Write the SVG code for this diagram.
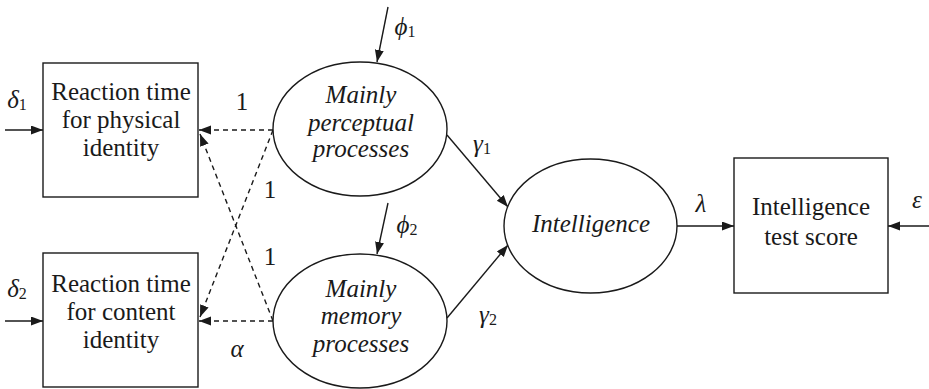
<svg xmlns="http://www.w3.org/2000/svg" width="929" height="389" viewBox="0 0 929 389">
<style>
.shape{fill:#fff;stroke:#1a1a1a;stroke-width:1.4}
.t{font-family:'Liberation Serif','DejaVu Serif',Tinos,'Times New Roman',serif;font-size:25px;fill:#1a1a1a;text-anchor:middle}
.i{font-style:italic}
.g{font-family:'Liberation Serif','DejaVu Serif',Tinos,'Times New Roman',serif;font-size:25px;font-style:italic;fill:#1a1a1a;text-anchor:middle}
.sub{font-style:normal;font-size:16px}
.c{fill:none;stroke:#1a1a1a;stroke-width:1.4}
.d{stroke-dasharray:5,4}
</style>
<defs>
<marker id="ah" markerUnits="userSpaceOnUse" markerWidth="13" markerHeight="10" refX="12" refY="4.5" orient="auto">
<path d="M0,0 L12,4.5 L0,9 z" fill="#1a1a1a"/>
</marker>
</defs>
<g id="connectors">
<line class="c" x1="5" y1="130" x2="43" y2="130" marker-end="url(#ah)"/>
<line class="c" x1="5" y1="321" x2="43" y2="321" marker-end="url(#ah)"/>
<line class="c" x1="929" y1="226" x2="888" y2="226" marker-end="url(#ah)"/>
<line class="c" x1="677" y1="226" x2="734" y2="226" marker-end="url(#ah)"/>
<line class="c" x1="388" y1="7" x2="377" y2="62" marker-end="url(#ah)"/>
<line class="c" x1="388" y1="203" x2="377" y2="254" marker-end="url(#ah)"/>
<line class="c" x1="447" y1="135" x2="508" y2="207" marker-end="url(#ah)"/>
<line class="c" x1="447" y1="318" x2="508" y2="245" marker-end="url(#ah)"/>
<line class="c d" x1="273" y1="130" x2="199" y2="130" marker-end="url(#ah)"/>
<line class="c d" x1="273" y1="130" x2="200" y2="317" marker-end="url(#ah)"/>
<line class="c d" x1="273" y1="321" x2="200" y2="134" marker-end="url(#ah)"/>
<line class="c d" x1="273" y1="321" x2="199" y2="321" marker-end="url(#ah)"/>
<text class="t" x="242" y="110" font-family="Liberation Serif">1</text>
<text class="t" x="270" y="198" font-family="Liberation Serif">1</text>
<text class="t" x="270" y="265" font-family="Liberation Serif">1</text>
<text class="g" x="237" y="357" font-family="Liberation Serif">α</text>
<text class="g" x="17" y="108" font-family="Liberation Serif">δ<tspan class="sub" dy="2">1</tspan></text>
<text class="g" x="17" y="297" font-family="Liberation Serif">δ<tspan class="sub" dy="2">2</tspan></text>
<text class="g" x="405" y="35" font-family="Liberation Serif">ϕ<tspan class="sub" dy="2">1</tspan></text>
<text class="g" x="407" y="233" font-family="Liberation Serif">ϕ<tspan class="sub" dy="2">2</tspan></text>
<text class="g" x="482" y="152" font-family="Liberation Serif">γ<tspan class="sub" dy="2">1</tspan></text>
<text class="g" x="488" y="323" font-family="Liberation Serif">γ<tspan class="sub" dy="2">2</tspan></text>
<text class="g" x="701" y="212" font-family="Liberation Serif">λ</text>
<text class="g" x="917" y="208" font-family="Liberation Serif">ε</text>
</g>
<g id="rt-physical" font-family="Liberation Serif">
<rect class="shape" x="43" y="63" width="155" height="134"/>
<text class="t" x="121" y="100">Reaction time</text>
<text class="t" x="121" y="128">for physical</text>
<text class="t" x="121" y="156">identity</text>
</g>
<g id="rt-content" font-family="Liberation Serif">
<rect class="shape" x="43" y="253" width="155" height="134"/>
<text class="t" x="121" y="292">Reaction time</text>
<text class="t" x="121" y="320">for content</text>
<text class="t" x="121" y="348">identity</text>
</g>
<g id="perceptual" font-family="Liberation Serif">
<ellipse class="shape" cx="360" cy="129" rx="87" ry="67"/>
<text class="t i" x="361" y="103">Mainly</text>
<text class="t i" x="361" y="131">perceptual</text>
<text class="t i" x="361" y="157">processes</text>
</g>
<g id="memory" font-family="Liberation Serif">
<ellipse class="shape" cx="360" cy="321" rx="87" ry="67"/>
<text class="t i" x="361" y="297">Mainly</text>
<text class="t i" x="361" y="324">memory</text>
<text class="t i" x="361" y="352">processes</text>
</g>
<g id="intelligence" font-family="Liberation Serif">
<ellipse class="shape" cx="590.5" cy="226" rx="86.5" ry="67"/>
<text class="t i" x="591" y="232">Intelligence</text>
</g>
<g id="test-score" font-family="Liberation Serif">
<rect class="shape" x="734" y="158" width="154" height="135"/>
<text class="t" x="811" y="215">Intelligence</text>
<text class="t" x="811" y="245">test score</text>
</g>
</svg>
